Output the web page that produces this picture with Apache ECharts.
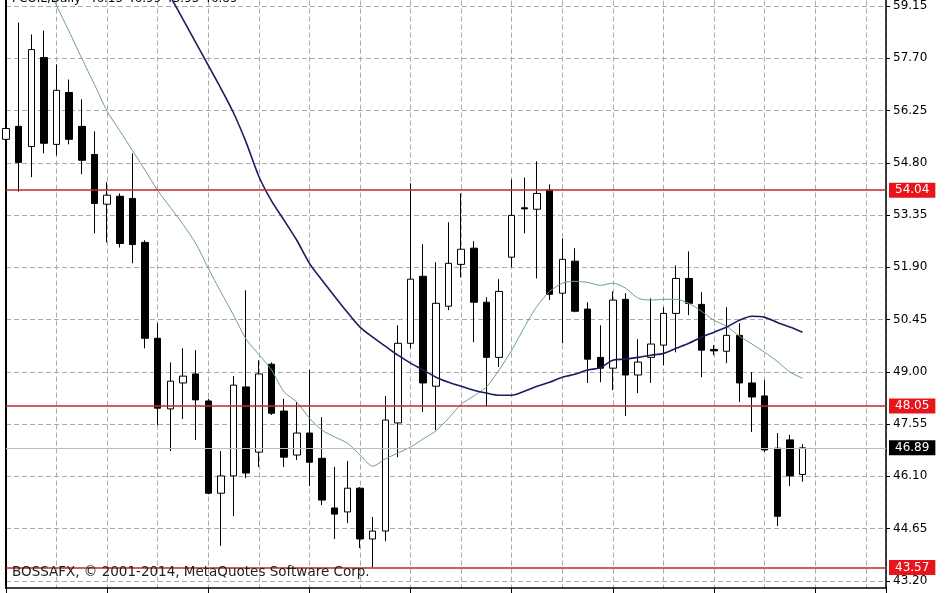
<!DOCTYPE html>
<html><head><meta charset="utf-8">
<script src="https://cdn.jsdelivr.net/npm/echarts@6/dist/echarts.min.js"></script>
<style>html,body{margin:0;padding:0;background:#fff}#c{width:948px;height:593px}</style>
</head><body><div id="c"></div>
<script>
// Daily candles (oldest -> newest)
const openP  = [55.45,55.81,55.25,57.72,55.31,56.75,55.81,55.03,53.65,53.87,53.81,52.59,49.93,47.97,48.69,48.94,48.19,45.63,46.11,48.58,46.77,49.21,47.91,46.69,47.30,46.60,45.22,45.11,45.77,44.36,44.58,47.58,49.79,51.65,48.60,50.82,51.98,52.43,50.93,49.40,52.18,53.55,53.51,54.04,51.18,52.07,50.74,49.40,49.10,51.01,48.91,49.40,49.74,50.62,51.59,50.87,49.62,49.57,50.01,48.69,48.33,46.88,47.11,46.15];
const closeP = [55.75,54.81,57.94,55.34,56.81,55.45,54.87,53.67,53.90,52.56,52.53,49.93,47.99,48.74,48.88,48.22,45.63,46.11,48.63,46.19,48.94,47.85,46.63,47.30,46.49,45.44,45.05,45.77,44.36,44.58,47.66,49.79,51.57,48.69,50.90,52.01,52.40,50.93,49.40,51.23,53.34,53.52,53.95,51.15,52.12,50.68,49.35,49.10,50.99,48.91,49.27,49.77,50.62,51.59,50.90,49.60,49.58,50.01,48.69,48.30,46.83,44.99,46.11,46.89];
const lowP   = [55.20,54.00,54.40,55.06,55.00,55.31,54.48,52.84,52.59,52.45,52.01,49.65,47.52,46.80,47.69,47.11,45.60,44.17,44.99,46.05,46.36,47.80,46.36,46.55,45.83,45.30,44.36,44.80,44.11,43.57,44.30,46.63,49.65,47.88,47.38,50.71,51.62,49.82,48.05,49.13,51.90,52.84,51.59,50.99,49.79,50.65,48.69,48.71,48.49,47.77,48.41,48.69,49.18,49.54,50.57,48.85,49.46,49.24,48.16,47.33,46.77,44.72,45.83,45.95];
const highP  = [56.00,58.69,58.36,58.47,57.53,57.11,56.56,55.67,54.26,53.95,55.06,52.65,50.35,49.26,49.65,49.60,48.25,46.80,48.88,51.26,49.32,49.26,48.25,48.16,49.05,47.74,46.36,46.52,45.80,44.97,48.33,50.29,54.23,52.54,52.04,53.15,53.95,52.62,51.07,51.57,54.34,54.39,54.84,54.20,52.70,52.43,50.93,50.29,51.23,51.18,49.90,51.04,50.79,51.95,52.34,51.21,49.74,50.79,50.35,48.99,48.77,47.30,47.25,46.99];
// Moving averages
const maFast = [62.20,61.40,60.70,59.94,59.16,58.44,57.69,56.97,56.23,55.69,55.14,54.59,54.03,53.56,53.09,52.57,51.87,51.21,50.57,49.90,49.48,49.05,48.44,48.16,47.71,47.38,47.19,47.02,46.69,46.38,46.58,46.75,46.91,47.14,47.36,47.71,48.10,48.33,48.58,49.05,49.60,50.24,50.82,51.23,51.46,51.51,51.48,51.40,51.46,51.32,51.04,50.99,51.01,51.01,50.90,50.68,50.43,50.26,49.99,49.77,49.54,49.29,48.99,48.82];
const maSlow = [null,null,null,null,null,null,null,null,null,61.94,61.30,60.69,60.05,59.41,58.78,58.14,57.50,56.86,56.18,55.36,54.42,53.74,53.20,52.65,52.01,51.54,51.09,50.65,50.24,49.96,49.71,49.46,49.24,49.05,48.85,48.71,48.60,48.49,48.41,48.35,48.35,48.46,48.60,48.71,48.85,48.93,49.05,49.11,49.32,49.35,49.40,49.46,49.51,49.65,49.79,49.96,50.10,50.24,50.43,50.54,50.51,50.37,50.24,50.10];
// Price scale tick labels and horizontal levels
const yTicks = [43.20,44.65,46.10,47.55,49.00,50.45,51.90,53.35,54.80,56.25,57.70,59.15];
const levels = [54.04,48.05,43.57];
const lastPrice = 46.89;
const headerText = 'FCOIL,Daily  46.15 46.99 45.95 46.89';
const copyrightText = 'BOSSAFX, \u00A9 2001-2014, MetaQuotes Software Corp.';

const FONT = 'DejaVu Sans';
const candles = openP.map((o, i) => [i, o, closeP[i], lowP[i], highP[i]]);
const fastLine = maFast.map((v, i) => [i, v]);
const slowLine = maSlow.map((v, i) => [i, v]);
const gridDash = { color: '#ababab', width: 1, type: [5, 3] };

const chart = echarts.init(document.getElementById('c'), null, { renderer: 'canvas' });
chart.setOption({
  animation: false,
  backgroundColor: '#ffffff',
  title: [
    { text: headerText, left: 12, top: -7, padding: 0,
      textStyle: { fontFamily: FONT, fontSize: 12, fontWeight: 'normal', color: '#000' } },
    { text: copyrightText, left: 12, top: 565, padding: 0,
      textStyle: { fontFamily: FONT, fontSize: 13.5, fontWeight: 'normal', color: '#222' } }
  ],
  grid: { left: 6, right: 62, top: 0, bottom: 5 },
  xAxis: [
    { type: 'value', min: 0, max: 69.6, interval: 4,
      axisLine: { show: false }, axisTick: { show: false }, axisLabel: { show: false },
      splitLine: { show: true, lineStyle: gridDash } },
    { type: 'value', position: 'bottom', min: 0, max: 69.6, interval: 8,
      axisLine: { show: true, onZero: false, lineStyle: { color: '#000', width: 1.5 } },
      axisTick: { show: true, length: 5, lineStyle: { color: '#000', width: 1 } },
      axisLabel: { show: false }, splitLine: { show: false } }
  ],
  yAxis: [
    { type: 'value', position: 'right', min: 43.0, max: 59.30,
      axisLine: { show: true, onZero: false, lineStyle: { color: '#000', width: 1.5 } },
      axisTick: { show: true, length: 4, customValues: yTicks, lineStyle: { color: '#000' } },
      axisLabel: { show: true, customValues: yTicks, formatter: v => v.toFixed(2),
        fontFamily: FONT, fontSize: 12, color: '#000', margin: 7 },
      splitLine: { show: true, lineStyle: gridDash } },
    { type: 'value', position: 'left', min: 43.0, max: 59.30,
      axisLine: { show: true, onZero: false, lineStyle: { color: '#000', width: 2 } },
      axisTick: { show: false }, axisLabel: { show: false }, splitLine: { show: false } }
  ],
  series: [
    { type: 'line', name: 'levels', data: [], clip: false, z: 1,
      markLine: {
        silent: true, symbol: ['none', 'none'], animation: false,
        data: levels.map(v => ({
          yAxis: v,
          lineStyle: { color: '#c4262e', width: 1.5, type: 'solid' },
          label: { show: true, position: 'end', distance: 3, formatter: p => p.value.toFixed(2),
            backgroundColor: '#e8141b', color: '#fff', fontFamily: FONT, fontSize: 12, padding: [2, 6, 1, 6] }
        })).concat([{
          yAxis: lastPrice,
          lineStyle: { color: '#bdbdbd', width: 1, type: 'solid' },
          label: { show: true, position: 'end', distance: 3, formatter: p => p.value.toFixed(2),
            backgroundColor: '#000', color: '#fff', fontFamily: FONT, fontSize: 12, padding: [2, 6, 1, 6] }
        }])
      } },
    { type: 'candlestick', name: 'FCOIL', data: candles, encode: { x: 0, y: [1, 2, 3, 4] },
      xAxisIndex: 0, yAxisIndex: 0, barWidth: 7, z: 3,
      itemStyle: { color: '#ffffff', color0: '#000000', borderColor: '#000000', borderColor0: '#000000',
        borderColorDoji: '#000000', borderWidth: 1 } },
    { type: 'line', name: 'MA fast', data: fastLine, xAxisIndex: 0, yAxisIndex: 0, showSymbol: false,
      symbol: 'none', clip: true, z: 4, smooth: 0.25, lineStyle: { color: '#6a9f8f', width: 1 } },
    { type: 'line', name: 'MA slow', data: slowLine, xAxisIndex: 0, yAxisIndex: 0, showSymbol: false,
      symbol: 'none', clip: true, z: 4, smooth: 0.3, lineStyle: { color: '#1c1c5e', width: 1.6 } }
  ]
});
</script>
</body></html>
